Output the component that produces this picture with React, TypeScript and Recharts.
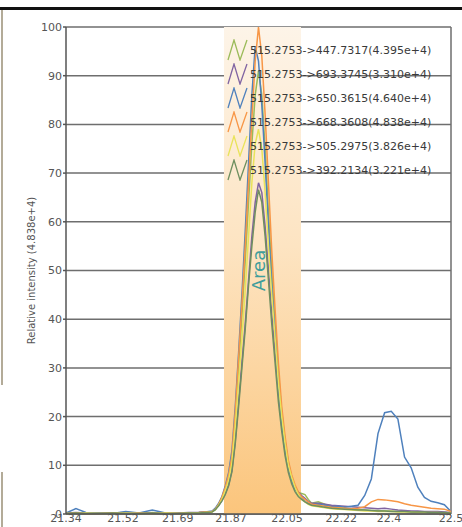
import { LineChart, Line, XAxis, YAxis, CartesianGrid, ReferenceArea, ReferenceLine } from 'recharts';

// retention time (min)
const times = [
  21.34, 21.37, 21.4, 21.44, 21.48, 21.52, 21.56, 21.6, 21.64, 21.68, 21.71, 21.74, 21.76,
  21.78, 21.79, 21.8, 21.81, 21.82, 21.83, 21.84, 21.85, 21.86, 21.87, 21.88, 21.89, 21.9, 21.91,
  21.92, 21.93, 21.94, 21.95, 21.96, 21.97, 21.98, 21.99, 22.0, 22.01, 22.02, 22.03, 22.04, 22.05,
  22.06, 22.07, 22.08,
  22.1, 22.12, 22.14, 22.16, 22.18, 22.2, 22.22, 22.24, 22.26, 22.28, 22.3, 22.32, 22.34, 22.36,
  22.38, 22.4, 22.42, 22.44, 22.46, 22.48, 22.5,
];

const green447 = [
  0.1, 0.2, 0.1, 0.2, 0.1, 0.2, 0.1, 0.3, 0.1, 0.2, 0.2, 0.3, 0.4,
  0.5, 1, 2, 3.4, 5.3, 7.8, 11.5, 20, 30, 41, 52, 64, 76, 86,
  91, 86, 75, 62, 50, 39, 29, 21, 15, 10.5, 7.5, 5.6, 4.4, 4.2,
  4, 3, 2.2,
  2.5, 2, 1.6, 1.4, 1.2, 1, 0.9, 0.8, 0.7, 0.7, 0.6, 0.6, 0.5, 0.5,
  0.5, 0.4, 0.4, 0.4, 0.3, 0.3, 0.2,
];
const purple693 = [
  0.2, 0.3, 0.2, 0.1, 0.2, 0.3, 0.2, 0.2, 0.1, 0.2, 0.3, 0.3, 0.4,
  0.5, 1, 1.8, 2.8, 4.2, 6, 9, 15, 23, 31, 39, 48, 57, 64,
  68, 66, 59, 50, 41, 33, 25, 18, 13, 9.5, 7, 5.2, 4.5, 3.8,
  3.2, 2.6, 2.2,
  2.2, 2, 1.8, 1.7, 1.6, 1.5, 1.4, 1.3, 1.2, 1.1, 1.2, 1, 0.8, 0.7,
  0.6, 0.6, 0.5, 0.5, 0.5, 0.4, 0.3,
];
const blue650 = [
  0.2, 1.1, 0.3, 0.2, 0.1, 0.5, 0.2, 0.8, 0.2, 0.1, 0.2, 0.3, 0.4,
  0.6, 1.2, 2.2, 3.6, 5.8, 8.5, 13, 22, 33, 45, 58, 72, 86, 96,
  93, 84, 72, 59, 47, 37, 27, 19, 14, 10, 7, 5.2, 4, 3.2,
  2.6, 2.2, 1.9,
  2, 1.8, 1.5, 1.6, 1.4, 1.6, 1.8, 3.8, 7.2, 16.5, 20.8, 21.1, 19.5, 11.7,
  9.5, 5.5, 3.4, 2.6, 2.3, 1.9, 0.5,
];
const orange668 = [
  0.1, 0.2, 0.1, 0.1, 0.2, 0.1, 0.2, 0.1, 0.2, 0.1, 0.2, 0.3, 0.4,
  0.5, 1, 2, 3.5, 5.5, 8, 12, 21, 32, 43, 55, 68, 81, 93,
  100, 94, 82, 68, 54, 42, 31, 22, 16, 11, 8, 6, 4.5, 3.5,
  3, 2.5, 2,
  1.8, 1.6, 1.4, 1.3, 1.2, 1.1, 1.2, 1.5, 2.5, 3, 2.9, 2.7, 2.5, 2.1,
  1.8, 1.6, 1.4, 1.2, 1.1, 1, 0.5,
];
const yellow505 = [
  0.1, 0.1, 0.2, 0.1, 0.1, 0.2, 0.1, 0.1, 0.2, 0.1, 0.2, 0.2, 0.3,
  0.4, 0.9, 1.8, 3, 4.8, 7, 10.5, 18, 27, 36, 46, 57, 68, 76,
  79, 75, 66, 55, 45, 36, 27, 20, 14.5, 10, 7.5, 5.5, 4, 3,
  2.5, 2, 1.7,
  1.5, 1.3, 1.1, 1, 0.9, 0.8, 0.7, 0.6, 0.6, 0.5, 0.5, 0.5, 0.4, 0.4,
  0.4, 0.3, 0.3, 0.3, 0.3, 0.2, 0.2,
];
const grey392 = [
  0.1, 0.2, 0.1, 0.1, 0.2, 0.1, 0.1, 0.2, 0.1, 0.1, 0.2, 0.2, 0.3,
  0.4, 0.9, 1.7, 2.7, 4, 5.8, 8.7, 14.5, 22, 30, 38, 47, 55, 62,
  66.6, 64, 57, 48, 39, 31, 23, 17, 12, 8.5, 6.2, 4.6, 3.6, 3,
  2.5, 2.1, 1.8,
  1.6, 1.4, 1.2, 1.1, 1, 0.9, 0.8, 0.8, 0.7, 0.6, 0.6, 0.5, 0.5, 0.5,
  0.4, 0.4, 0.4, 0.3, 0.3, 0.3, 0.2,
];

const xTickValues = [21.34, 21.512, 21.677, 21.837, 22.006, 22.169, 22.313, 22.5];
const xTickLabels = ['21.34', '21.52', '21.69', '21.87', '22.05', '22.22', '22.4', '22.5'];
const yTicks = [0, 10, 20, 30, 40, 50, 60, 70, 80, 90, 100];

const series = [
  { key: 'green447', name: '515.2753->447.7317(4.395e+4)', color: '#9bbb59', values: green447 },
  { key: 'purple693', name: '515.2753->693.3745(3.310e+4)', color: '#8064a2', values: purple693 },
  { key: 'blue650', name: '515.2753->650.3615(4.640e+4)', color: '#4f81bd', values: blue650 },
  { key: 'orange668', name: '515.2753->668.3608(4.838e+4)', color: '#f79646', values: orange668 },
  { key: 'yellow505', name: '515.2753->505.2975(3.826e+4)', color: '#e9e35a', values: yellow505 },
  { key: 'grey392', name: '515.2753->392.2134(3.221e+4)', color: '#6f8f5f', values: grey392 },
];

const data = times.map((t, i) => {
  const row: Record<string, number> = { t };
  series.forEach(s => (row[s.key] = s.values[i]));
  return row;
});

const font = '"DejaVu Sans", Verdana, sans-serif';

function LegendBox() {
  return (
    <div style={{ position: 'absolute', left: 227, top: 38, fontFamily: font, fontSize: 11, color: '#3a3a3a' }}>
      {series.map(s => (
        <div key={s.key} style={{ display: 'flex', alignItems: 'center', height: 24 }}>
          <svg width={21} height={22} style={{ marginRight: 2 }}>
            <polyline points="1,21 7,1 13,21 20,1" fill="none" stroke={s.color} strokeWidth={1.3} />
          </svg>
          <span>{s.name}</span>
        </div>
      ))}
    </div>
  );
}

export default function App() {
  return (
    <div style={{ position: 'relative', width: 462, height: 527, background: '#fff' }}>
      <style>{'body{margin:0}'}</style>
      <LineChart
        width={462}
        height={527}
        data={data}
        margin={{ top: 27, right: 11, bottom: 0, left: 0 }}
        style={{ position: 'absolute', left: 0, top: 0 }}
      >
        <defs>
          <linearGradient id="bandGrad" x1="0" y1="0" x2="0" y2="1">
            <stop offset="0%" stopColor="#fdf4e8" />
            <stop offset="45%" stopColor="#fde4c2" />
            <stop offset="100%" stopColor="#fbc57c" />
          </linearGradient>
        </defs>
        <ReferenceArea
          x1={21.816}
          x2={22.048}
          y1={0}
          y2={100}
          fill="url(#bandGrad)"
          fillOpacity={1}
          stroke="none"
          label={(props: any) => {
            const vb = props.viewBox || {};
            const cx = vb.x + vb.width / 2 - 4;
            const cy = vb.y + vb.height / 2;
            return (
              <text
                x={cx}
                y={cy}
                transform={`rotate(-90 ${cx} ${cy})`}
                textAnchor="middle"
                dominantBaseline="central"
                fontFamily={font}
                fontSize={18}
                fill="#3f9e9c"
              >
                Area
              </text>
            );
          }}
        />
        <CartesianGrid vertical={false} stroke="#6e6e6e" strokeWidth={1.5} />
        <XAxis
          dataKey="t"
          type="number"
          domain={[21.34, 22.5]}
          ticks={xTickValues}
          tickFormatter={(_v: number, i: number) => xTickLabels[i]}
          interval={0}
          height={13}
          tickSize={0}
          tickMargin={0}
          stroke="#555"
          strokeWidth={1.5}
          tick={{ fill: '#555', fontSize: 11, fontFamily: font }}
        />
        <YAxis
          domain={[0, 100]}
          ticks={yTicks}
          interval={0}
          width={66}
          tickSize={3}
          tickMargin={1}
          stroke="#555"
          strokeWidth={1.5}
          tick={{ fill: '#555', fontSize: 11, fontFamily: font }}
          label={(props: any) => {
            const vb = props.viewBox || {};
            const cx = 31;
            const cy = vb.y + vb.height / 2;
            return (
              <text
                x={cx}
                y={cy}
                transform={`rotate(-90 ${cx} ${cy})`}
                textAnchor="middle"
                dominantBaseline="central"
                fontFamily={font}
                fontSize={10}
                fill="#555"
              >
                Relative intensity (4.838e+4)
              </text>
            );
          }}
        />
        <ReferenceLine x={22.5} stroke="#6e6e6e" strokeWidth={1.5} />
        {series.map(s => (
          <Line
            key={s.key}
            type="linear"
            dataKey={s.key}
            name={s.name}
            stroke={s.color}
            strokeWidth={1.5}
            dot={false}
            isAnimationActive={false}
          />
        ))}
      </LineChart>
      <LegendBox />
      <div style={{ position: 'absolute', left: 0, top: 7, width: 462, height: 3, background: '#111' }} />
      <div style={{ position: 'absolute', left: 1, top: 10, width: 2, height: 375, background: '#b3ab98' }} />
      <div style={{ position: 'absolute', left: 1, top: 472, width: 2, height: 55, background: '#b3ab98' }} />
    </div>
  );
}
